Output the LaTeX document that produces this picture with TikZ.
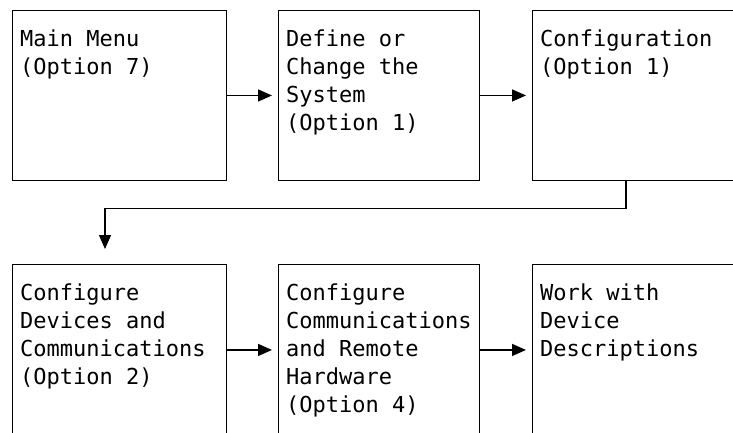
\documentclass[tikz,border=0pt]{standalone}
\usepackage{fontspec}
\newfontfamily\boxfont{DejaVu Sans Mono}
\usetikzlibrary{arrows.meta}

\tikzset{
  panel/.style={draw, line width=1.4pt, minimum width=214pt, minimum height=170.5pt,
    inner sep=0pt, anchor=north west},
  narrow/.style={minimum width=201pt},
  lbl/.style={anchor=north west, inner sep=0pt, align=left,
    font={\boxfont\fontsize{22}{28}\selectfont}},
  flow/.style={line width=1.4pt, -{Triangle[length=14pt,width=12pt]}},
}
\newcommand{\fst}{\rule{0pt}{17pt}}

\begin{document}
\begin{tikzpicture}[x=1pt, y=-1pt]
  \clip (0,0) rectangle (733,432);
  % top row
  \node[panel] (menu) at (12,9.5) {};
  \node[panel,narrow] (chg) at (278,9.5) {};
  \node[panel] (cfg) at (532,9.5) {};
  % bottom row
  \node[panel] (devs) at (12,264) {};
  \node[panel,narrow] (comm) at (278,264) {};
  \node[panel] (desc) at (532,264) {};
  % texts
  \node[lbl] (menu-t) at ([xshift=8pt,yshift=-19.5pt]menu.north west) {\fst Main Menu\\(Option 7)};
  \node[lbl] (chg-t) at ([xshift=8pt,yshift=-19.5pt]chg.north west) {\fst Define or\\Change the\\System\\(Option 1)};
  \node[lbl] (cfg-t) at ([xshift=8pt,yshift=-19.5pt]cfg.north west) {\fst Configuration\\(Option 1)};
  \node[lbl] (devs-t) at ([xshift=8pt,yshift=-19.5pt]devs.north west) {\fst Configure\\Devices and\\Communications\\(Option 2)};
  \node[lbl] (comm-t) at ([xshift=8pt,yshift=-19.5pt]comm.north west) {\fst Configure\\Communications\\and Remote\\Hardware\\(Option 4)};
  \node[lbl] (desc-t) at ([xshift=8pt,yshift=-19.5pt]desc.north west) {\fst Work with\\Device\\Descriptions};
  % connectors
  \draw[flow, shorten >=6pt] (menu.east) -- (chg.west);
  \draw[flow, shorten >=6pt] (chg.east) -- (cfg.west);
  \draw[flow, shorten >=15pt] ([xshift=94pt]cfg.south west) -- ++(0,27) -| ([xshift=93pt]devs.north west);
  \draw[flow, shorten >=6pt] (devs.east) -- (comm.west);
  \draw[flow, shorten >=6pt] (comm.east) -- (desc.west);
\end{tikzpicture}
\end{document}
